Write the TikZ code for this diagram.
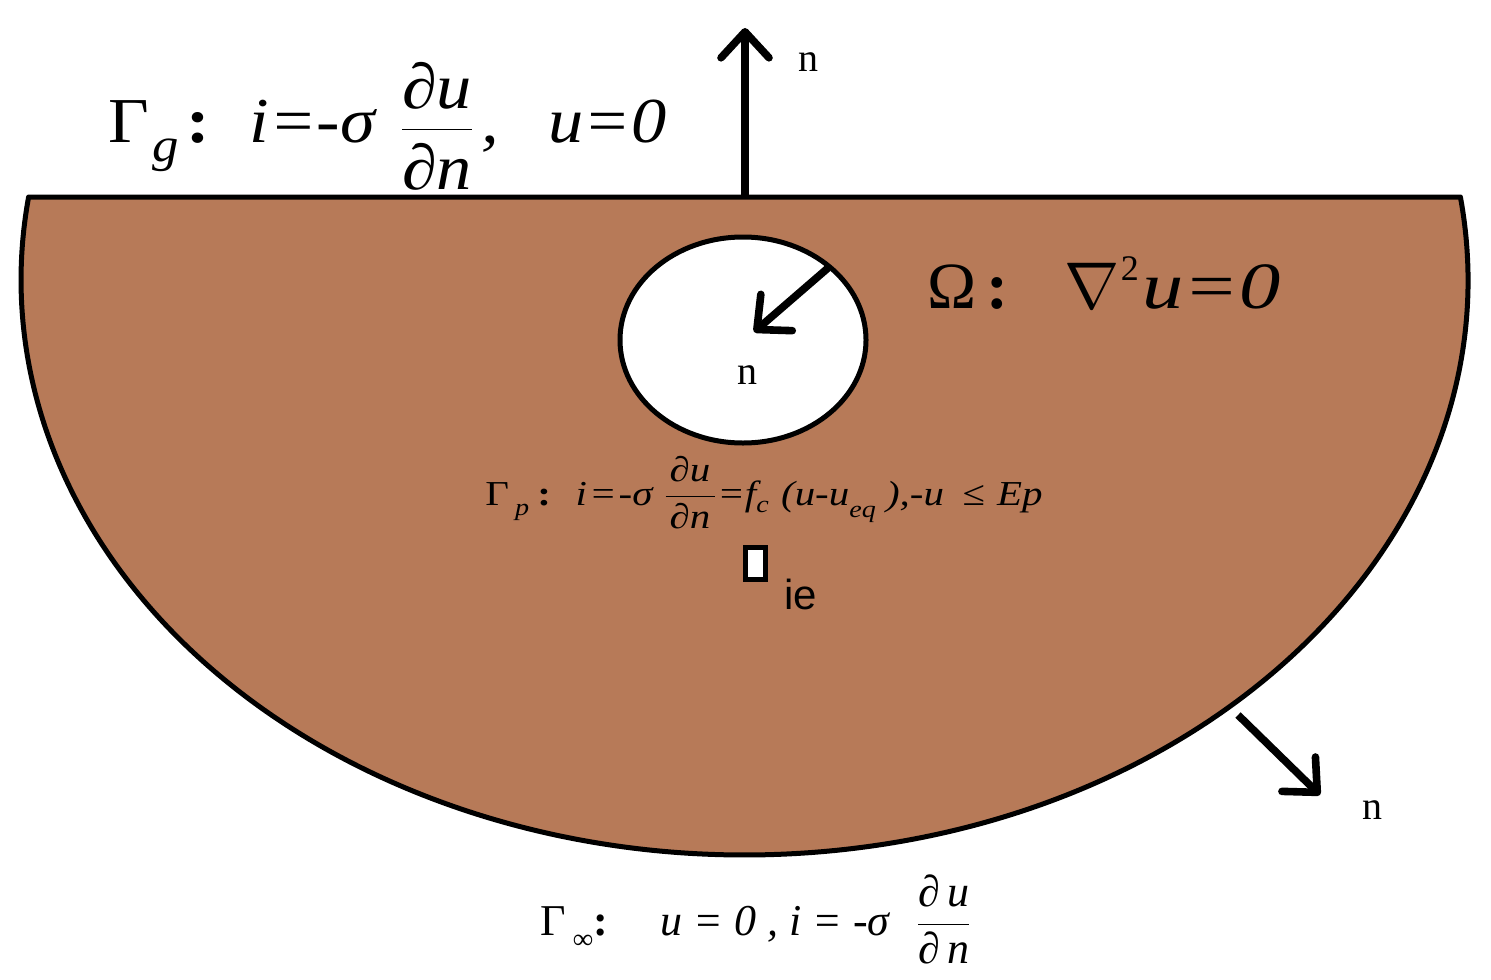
\documentclass[tikz,border=0pt]{standalone}
\usepackage{fontspec}
\usepackage{graphicx}
\setmainfont{Liberation Serif}
\newfontfamily\sansie{Liberation Sans}
\usetikzlibrary{arrows.meta}
\definecolor{soil}{RGB}{183,122,88}
% fraction with extra vertical room: #1 numerator, #2 denominator, #3 num depth, #4 den height
\newcommand\pfrac[4]{$\displaystyle\frac{\mbox{\rule[-#3]{0pt}{0pt}#1}}{\mbox{\rule{0pt}{#4}#2}}$}
\newcommand\bcolon{\textbf{\textup{:}}}
\tikzset{
  outline/.style={line width=2.5pt,line join=round},
  normal/.style={line width=3.8pt,-{Straight Barb[length=13pt,width=24pt,round]}},
  lbl/.style={inner sep=0pt,anchor=base west},
  nlbl/.style={inner sep=0pt,font=\fontsize{20}{24}\selectfont}
}
\begin{document}
\begin{tikzpicture}[x=0.5pt,y=-0.5pt]
\useasboundingbox (0,0) rectangle (1491,979);
% soil half-ellipse
\draw[outline,fill=soil] (744.5,280) ++(-8.3:723.5 and 575)
  arc[start angle=-8.3,end angle=188.3,x radius=723.5,y radius=575] -- cycle;
% hole
\draw[outline,fill=white] (743,340) ellipse[x radius=123,y radius=103];
% electrode
\node[draw,line width=2.5pt,fill=white,minimum width=10pt,minimum height=16pt,inner sep=0pt] (ie) at (755,563) {};
\node[inner sep=0pt,anchor=base west,font=\sansie\fontsize{21}{24}\selectfont] (ielbl) at (784,609) {ie};
% normals
\coordinate (top0) at (745,197);
\coordinate (top1) at (745,28);
\draw[normal] (top0) -- (top1);
\node[nlbl] (n1) at (808,62) {n};
\coordinate (h0) at (828,268);
\coordinate (h1) at (754,332);
\draw[normal] (h0) -- (h1);
\node[nlbl] (n2) at (747,375) {n};
\coordinate (b0) at (1238,715);
\coordinate (b1) at (1320,795);
\draw[normal] (b0) -- (b1);
\node[nlbl] (n3) at (1372,810) {n};
% labels
\node[lbl,font=\fontsize{32}{38}\selectfont\itshape] (gg) at (108,142)
 {\scalebox{1.1}[1]{\textup{Γ}\hspace{0.05em}\raisebox{-0.3em}{\fontsize{24}{24}\selectfont g}\hspace{0.1em}\bcolon\hspace{0.57em}i=-σ\hspace{0.35em}\pfrac{∂u}{∂n}{0.12em}{0.9em}\hspace{0.1em},\hspace{0.7em}u=0}};
\node[lbl,font=\fontsize{33}{38}\selectfont\itshape] (om) at (927,308)
 {\textup{Ω}\hspace{0.15em}\bcolon\hspace{0.85em}\scalebox{1.33}{$\nabla$}\hspace{0.02em}\raisebox{0.42em}{\fontsize{18}{18}\selectfont\textup{2}}\hspace{0.05em}\scalebox{1.25}[1]{u=0}};
\node[lbl,font=\fontsize{17.5}{21}\selectfont\itshape] (gp) at (485,505)
 {\scalebox{1.17}[1]{\textup{Γ}\hspace{0.15em}\raisebox{-0.3em}{\fontsize{12}{12}\selectfont p}\hspace{0.2em}\bcolon\hspace{0.6em}i\hspace{0.05em}=\hspace{0.05em}-σ\hspace{0.25em}\pfrac{\hspace{0.1em}∂u\hspace{0.1em}}{\hspace{0.1em}∂n\hspace{0.1em}}{0.15em}{0.85em}=f\raisebox{-0.2em}{\fontsize{12}{12}\selectfont c}\hspace{0.3em}(u-u\raisebox{-0.35em}{\fontsize{12}{12}\selectfont eq}\hspace{0.25em}),-u\hspace{0.45em}≤\hspace{0.3em}Ep}};
\node[lbl,font=\fontsize{22}{26}\selectfont\itshape] (gi) at (540,935)
 {\textup{Γ}\,\raisebox{-0.3em}{\fontsize{14}{14}\selectfont ∞}\bcolon\hspace{1.2em}u = 0 ,\ i = -σ\hspace{0.6em}\pfrac{∂\,u}{∂\,n}{0.1em}{0.8em}};
\end{tikzpicture}
\end{document}
